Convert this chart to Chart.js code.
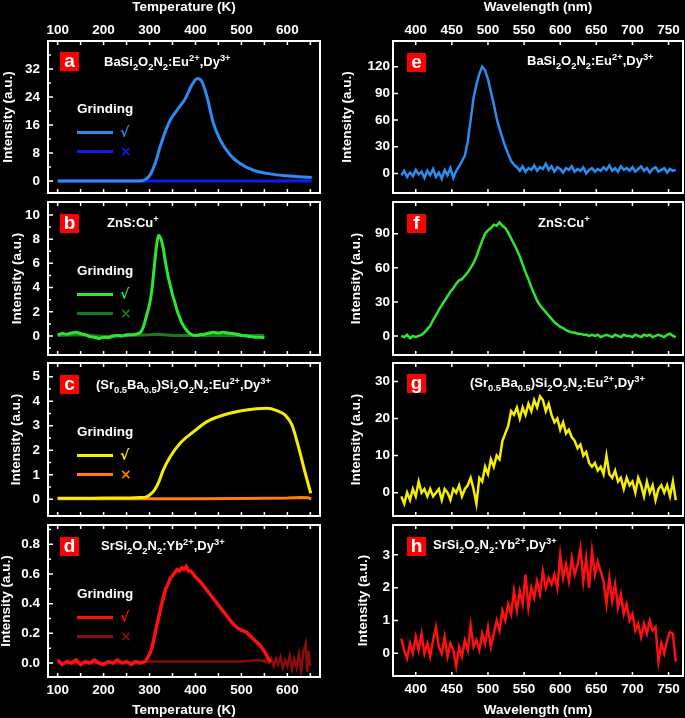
<!DOCTYPE html>
<html><head><meta charset="utf-8">
<script src="https://cdn.jsdelivr.net/npm/chart.js@4.4.0/dist/chart.umd.min.js"></script>
<style>
html,body{margin:0;padding:0;background:#000;width:685px;height:718px;overflow:hidden;font-family:"Liberation Sans",Arial,sans-serif;}
#root{position:relative;width:685px;height:718px;}
.lab{position:absolute;width:19px;height:19px;background:#f00;color:#fff;font:bold 19px "Liberation Sans",Arial,sans-serif;text-align:center;line-height:18px;}
.ann{position:absolute;color:#fff;font:bold 13px "Liberation Sans",Arial,sans-serif;line-height:16px;white-space:nowrap;}
.ann sub,.ann sup{font-size:72%;line-height:0;}
.grind{position:absolute;color:#fff;font:bold 13.5px "Liberation Sans",Arial,sans-serif;line-height:16px;white-space:nowrap;}
.lline{position:absolute;height:3px;width:36px;}
.sym{position:absolute;font:bold 14px "DejaVu Sans",sans-serif;line-height:16px;}
</style></head>
<body><div id="root"></div>
<script>
// ---------- DATA ----------
const tempTickLabels = [100,200,300,400,500,600];
const tempTickMarks = [100,150,200,250,300,350,400,450,500,550,600,650];
const wlTickLabels = [400,450,500,550,600,650,700,750];

const aYTicks = [0,8,16,24,32];
const aYMinor = [4,12,20,28,36];
const bYTicks = [0,2,4,6,8,10];
const bYMinor = [-1,1,3,5,7,9,11];
const cYTicks = [0,1,2,3,4,5];
const cYMinor = [0.5,1.5,2.5,3.5,4.5,5.5];
const dYTicks = [0,0.2,0.4,0.6,0.8];
const dYMinor = [0.1,0.3,0.5,0.7,0.9];
const eYTicks = [0,30,60,90,120];
const fYTicks = [0,30,60,90];
const gYTicks = [0,10,20,30];
const hYTicks = [0,1,2,3];

// (a) BaSi2O2N2:Eu2+,Dy3+ thermoluminescence
const aTempOn = [100,150,200,250,280,290,301,312,323,334,345,360,378,392,404,414,425,439,454,476,497,526,555,599,653];
const aIntOn  = [0,0,0,0,0.05,0.4,1.7,5,9.8,14,17.4,20.3,23.6,27.4,29.3,28.4,24.1,16.5,11.7,7.4,5,3.1,2.2,1.5,1.0];
const aTempOff = [100,300,500,653];
const aIntOff  = [0,0,0,0];

// (b) ZnS:Cu+
const bTempOn = [100,110,120,130,140,150,160,170,180,190,200,210,220,230,240,250,260,270,280,
  285,290,295,300,305,310,315,320,325,330,335,340,345,350,355,360,365,370,
  380,390,400,410,420,430,440,450,460,470,480,490,500,510,520,530,540,550];
const bIntOn = [0.1,0.2,0.15,0.25,0.3,0.2,0.1,-0.05,-0.1,-0.2,-0.1,-0.15,0.0,0.05,0.0,0.1,0.1,0.15,0.3,
  0.6,1.2,1.9,2.6,3.8,5.6,7.4,8.3,8.0,7.2,6.0,5.0,4.2,3.4,2.8,2.1,1.6,1.1,
  0.5,0.15,0.05,0.1,0.15,0.25,0.3,0.25,0.3,0.25,0.2,0.15,0.05,0.0,-0.05,-0.1,-0.1,-0.15];
const bTempOff = [100,150,200,250,300,320,350,400,450,500,550];
const bIntOff  = [0.05,0.1,-0.05,0.05,0.1,0.15,0.05,0.05,0.05,0.05,0.05];

// (c) (Sr0.5Ba0.5)Si2O2N2:Eu2+,Dy3+
const cTempOn = [100,150,200,250,280,290,300,310,320,330,345,367,396,425,461,497,533,555,577,595,610,624,639,651];
const cIntOn  = [0.04,0.04,0.05,0.05,0.07,0.08,0.18,0.35,0.7,1.2,1.74,2.3,2.76,3.17,3.44,3.6,3.69,3.71,3.62,3.44,3.03,2.15,1.06,0.24];
const cTempOff = [100,200,300,400,500,600,630,645,652];
const cIntOff  = [0.02,0.02,0.02,0.02,0.03,0.05,0.07,0.06,0.02];

// (d) SrSi2O2N2:Yb2+,Dy3+
const dTempOn = [100,110,120,130,140,150,160,170,180,190,200,210,220,230,240,250,260,270,280,290,
  295,300,305,310,315,320,325,330,335,340,345,350,355,360,365,370,375,380,385,390,395,400,
  410,420,430,440,450,460,470,480,490,500,510,520,530,540,550,555,560,565];
const dIntOn = [0.02,-0.01,0.01,0.0,0.02,-0.01,0.01,0.0,0.02,0.0,-0.01,0.01,0.0,0.02,0.0,0.01,-0.01,0.01,0.0,0.01,
  0.03,0.06,0.1,0.17,0.24,0.31,0.38,0.44,0.5,0.53,0.57,0.59,0.61,0.63,0.62,0.64,0.63,0.65,0.62,0.62,0.6,0.58,
  0.55,0.51,0.47,0.43,0.39,0.35,0.31,0.27,0.24,0.22,0.21,0.18,0.15,0.12,0.08,0.05,0.02,0.01];
const dTempOff = [100,200,300,350,400,450,500,540,560,565,570,575,580,585,590,595,600,605,610,615,620,625,630,635,640,643,646,650];
const dIntOff  = [0.0,0.0,0.01,0.01,0.01,0.01,0.01,0.02,0.0,0.03,-0.02,0.03,-0.01,0.04,-0.03,0.02,-0.02,0.05,-0.04,0.03,-0.03,0.06,-0.05,0.08,0.13,-0.06,0.08,-0.02];

// Emission spectra (e-h)
const wavelengths = [380,384,388,392,396,400,404,408,412,416,420,424,428,432,436,440,444,448,452,456,
  460,464,468,472,476,480,484,488,492,496,500,504,508,512,516,520,524,528,532,536,
  540,544,548,552,556,560,564,568,572,576,580,584,588,592,596,600,604,608,612,616,
  620,624,628,632,636,640,644,648,652,656,660,664,668,672,676,680,684,688,692,696,
  700,704,708,712,716,720,724,728,732,736,740,744,748,752,756,760];
const eSpec = [-2,3,-4,1,-3,4,-1,2,-5,3,-2,5,-4,1,-6,4,-2,6,-5,3,
  8,14,20,36,60,85,100,112,120,116,106,92,78,62,50,40,30,22,14,10,
  7,3,8,2,6,4,9,3,7,5,11,4,8,2,7,5,1,6,4,8,
  2,5,3,7,0,4,6,2,5,3,7,4,9,3,6,2,8,4,6,3,
  7,2,5,8,3,6,1,5,7,2,4,6,1,5,3,4];
const fSpec = [0,-1,1,-2,0,-1,0,1,3,6,9,14,18,23,27,31,35,39,42,46,
  49,50,53,56,60,64,70,77,84,90,93,95,98,97,100,97,95,91,86,81,
  76,70,63,56,50,43,37,31,27,24,21,18,15,12,10,8,7,5,4,3,
  3,2,2,1,1,0,1,0,1,-1,0,1,0,-1,1,0,-1,1,0,0,
  -1,1,0,-1,1,0,1,-1,0,1,0,-1,1,2,0,-1];
const gSpec = [-1,-3,0,-2,1,-1,3,0,1,-1,1,-1,0,1,-2,1,0,-2,1,0,
  2,-1,1,2,4,1,-3,4,3,7,5,9,7,10,9,14,16,18,22,21,
  23,20,23,21,24,22,25,23,26,25,22,24,21,19,20,17,19,16,17,15,
  14,12,13,10,11,8,7,8,6,7,5,10,5,4,6,3,4,1,4,2,
  3,0,4,2,-1,3,0,2,-2,1,2,0,2,-1,3,-2];
const hSpec = [0.45,0.1,-0.15,0.3,0.0,0.5,0.1,0.6,0.0,0.3,-0.1,0.4,0.8,0.2,0.0,0.5,-0.1,0.3,0.1,-0.4,
  0.2,-0.1,0.4,0.1,0.85,0.2,0.4,0.1,0.6,0.3,0.8,0.2,0.6,1.0,0.7,1.3,1.0,1.5,1.2,1.9,
  1.3,1.9,1.5,2.4,1.4,2.0,1.7,2.2,1.8,2.5,2.0,2.3,2.1,2.4,2.0,3.0,2.3,2.7,2.2,2.9,
  2.4,2.7,3.2,2.2,2.9,2.0,3.1,2.4,2.8,2.5,2.2,1.5,2.3,1.6,2.1,1.4,1.8,1.2,1.5,1.0,
  1.2,0.7,0.9,0.5,0.9,0.6,1.0,0.7,0.8,-0.25,0.3,0.0,0.4,0.65,0.6,-0.25];

// ---------- DRAWING ----------
Chart.defaults.font.family = '"Liberation Sans", Arial, sans-serif';
const FONT = {size:13.5, weight:'bold'};
const pts = (xs, ys) => xs.map((x,i)=>({x:x, y:ys[i]}));

const framePlugin = {
  id:'frame',
  afterDatasetsDraw(chart, args, o){
    const {ctx, chartArea:{left,right,top,bottom}, scales:{x,y}} = chart;
    ctx.save();
    ctx.strokeStyle = '#fff';
    ctx.lineWidth = 1.5;
    ctx.beginPath();
    o.xMarks.forEach(v=>{const p=x.getPixelForValue(v); ctx.moveTo(p,bottom); ctx.lineTo(p,bottom-4); ctx.moveTo(p,top); ctx.lineTo(p,top+4);});
    o.yMajor.forEach(v=>{const p=y.getPixelForValue(v); ctx.moveTo(left,p); ctx.lineTo(left+5,p);});
    o.yMinor.forEach(v=>{const p=y.getPixelForValue(v); if(p>top+2&&p<bottom-2){ctx.moveTo(left,p); ctx.lineTo(left+3,p);}});
    ctx.stroke();
    ctx.lineWidth = 2;
    ctx.strokeRect(left,top,right-left,bottom-top);
    ctx.restore();
  }
};

const L = {left:0, w:330, yW:48, padR:10, xMin:79, xMax:671, xMarks:tempTickMarks, xLabels:tempTickLabels, xTitle:'Temperature (K)', tickPad:8};
const R = {left:340, w:345, yW:53, padR:2, xMin:368.5, xMax:770, xMarks:wlTickLabels, xLabels:wlTickLabels, xTitle:'Wavelength (nm)', tickPad:3};

// each canvas extends 20px beyond its plot box where there is no axis
const panels = [
  {col:L, top:0,   h:213, padT:0,  padB:20, xPos:'top', xH:41, yMin:-3.4, yMax:40, yTicks:aYTicks, yMinor:aYMinor, tPad:0,
   sets:[{d:pts(aTempOn,aIntOn), c:'#2b8cf2', w:3, smooth:true},{d:pts(aTempOff,aIntOff), c:'#0c1cf0', w:3}]},
  {col:L, top:182, h:193, padT:20, padB:20, yMin:-1.57, yMax:11.07, yTicks:bYTicks, yMinor:bYMinor, tPad:8.8,
   sets:[{d:pts(bTempOn,bIntOn), c:'#2ee62e', w:3, smooth:true},{d:pts(bTempOff,bIntOff), c:'#1a7a1a', w:3}]},
  {col:L, top:343, h:193, padT:20, padB:20, yMin:-0.68, yMax:5.56, yTicks:cYTicks, yMinor:cYMinor, tPad:8.1,
   sets:[{d:pts(cTempOn,cIntOn), c:'#f5ee00', w:3, smooth:true},{d:pts(cTempOff,cIntOff), c:'#ff8000', w:3}]},
  {col:L, top:505, h:213, padT:20, padB:0, xPos:'bottom', xH:41, yMin:-0.094, yMax:0.93, yTicks:dYTicks, yMinor:dYMinor, tPad:-1.5, fmt:v=>v.toFixed(1),
   sets:[{d:pts(dTempOn,dIntOn), c:'#ff1010', w:3.5},{d:pts(dTempOff,dIntOff), c:'#8a0c0c', w:2.5}]},
  {col:R, top:0,   h:213, padT:0,  padB:20, xPos:'top', xH:41, yMin:-22, yMax:149, yTicks:eYTicks, yMinor:[], tPad:-0.4,
   sets:[{d:pts(wavelengths,eSpec), c:'#2b8cf2', w:2.5}]},
  {col:R, top:182, h:193, padT:20, padB:20, yMin:-16.8, yMax:118, yTicks:fYTicks, yMinor:[], tPad:8.1,
   sets:[{d:pts(wavelengths,fSpec), c:'#2ee62e', w:2.5}]},
  {col:R, top:343, h:193, padT:20, padB:20, yMin:-6.3, yMax:35, yTicks:gYTicks, yMinor:[], tPad:8.1,
   sets:[{d:pts(wavelengths,gSpec), c:'#f5ee00', w:2.5}]},
  {col:R, top:505, h:213, padT:20, padB:0, xPos:'bottom', xH:42, yMin:-0.69, yMax:3.91, yTicks:hYTicks, yMinor:[], tPad:15.6,
   sets:[{d:pts(wavelengths,hSpec), c:'#ff1010', w:2.5}]}
];

const root = document.getElementById('root');
panels.forEach(p=>{
  const c = p.col;
  const wrap = document.createElement('div');
  wrap.style.cssText = `position:absolute;left:${c.left}px;top:${p.top}px;width:${c.w}px;height:${p.h}px;`;
  const cv = document.createElement('canvas');
  cv.width = c.w; cv.height = p.h;
  cv.style.width = c.w+'px'; cv.style.height = p.h+'px';
  wrap.appendChild(cv); root.appendChild(wrap);
  const xScale = {
    type:'linear', min:c.xMin, max:c.xMax, position:p.xPos||'bottom', display:!!p.xPos,
    afterBuildTicks:s=>{s.ticks = c.xLabels.map(v=>({value:v}));},
    ticks:{color:'#fff', font:FONT, padding:p.xPos==='top'?3:5, autoSkip:false, maxRotation:0, minRotation:0},
    grid:{display:false, drawTicks:false}, border:{display:false},
    title:{display:true, text:c.xTitle, color:'#fff', font:FONT, padding:{top:p.xPos==='top'?-1:0, bottom:0}}
  };
  if (p.xPos) xScale.afterFit = s=>{s.height = p.xH;};
  new Chart(cv.getContext('2d'), {
    type:'line',
    data:{datasets:p.sets.map(s=>({data:s.d, borderColor:s.c, borderWidth:s.w, pointRadius:0, fill:false,
      cubicInterpolationMode: s.smooth?'monotone':'default', tension:0}))},
    options:{
      responsive:false, animation:false, devicePixelRatio:1,
      layout:{padding:{top:p.padT, bottom:p.padB, left:0, right:c.padR}},
      plugins:{legend:{display:false}, tooltip:{enabled:false},
        frame:{xMarks:c.xMarks, yMajor:p.yTicks, yMinor:p.yMinor}},
      scales:{
        x:xScale,
        y:{type:'linear', min:p.yMin, max:p.yMax,
          afterBuildTicks:s=>{s.ticks = p.yTicks.map(v=>({value:v}));},
          afterFit:s=>{s.width = c.yW;},
          ticks:{color:'#fff', font:FONT, padding:c.tickPad, callback: p.fmt || (v=>String(v))},
          grid:{display:false, drawTicks:false}, border:{display:false},
          title:{display:true, text:'Intensity (a.u.)', color:'#fff', font:FONT, padding:{top:p.tPad, bottom:0}}
        }
      }
    },
    plugins:[framePlugin]
  });
});

// ---------- ANNOTATIONS ----------
const labels = [
  {t:'a', x:60, y:52}, {t:'b', x:60, y:214}, {t:'c', x:60, y:375}, {t:'d', x:60, y:537},
  {t:'e', x:407, y:53}, {t:'f', x:407, y:214}, {t:'g', x:407, y:374}, {t:'h', x:407, y:537}
];
labels.forEach(l=>{
  const d = document.createElement('div'); d.className='lab'; d.textContent=l.t;
  d.style.left=l.x+'px'; d.style.top=l.y+'px'; root.appendChild(d);
});
const anns = [
  {h:'BaSi<sub>2</sub>O<sub>2</sub>N<sub>2</sub>:Eu<sup>2+</sup>,Dy<sup>3+</sup>', x:104, y:54},
  {h:'ZnS:Cu<sup>+</sup>', x:107, y:215},
  {h:'(Sr<sub>0.5</sub>Ba<sub>0.5</sub>)Si<sub>2</sub>O<sub>2</sub>N<sub>2</sub>:Eu<sup>2+</sup>,Dy<sup>3+</sup>', x:96, y:377},
  {h:'SrSi<sub>2</sub>O<sub>2</sub>N<sub>2</sub>:Yb<sup>2+</sup>,Dy<sup>3+</sup>', x:101, y:537.5},
  {h:'BaSi<sub>2</sub>O<sub>2</sub>N<sub>2</sub>:Eu<sup>2+</sup>,Dy<sup>3+</sup>', x:527, y:53},
  {h:'ZnS:Cu<sup>+</sup>', x:538, y:215},
  {h:'(Sr<sub>0.5</sub>Ba<sub>0.5</sub>)Si<sub>2</sub>O<sub>2</sub>N<sub>2</sub>:Eu<sup>2+</sup>,Dy<sup>3+</sup>', x:470, y:375},
  {h:'SrSi<sub>2</sub>O<sub>2</sub>N<sub>2</sub>:Yb<sup>2+</sup>,Dy<sup>3+</sup>', x:433, y:537}
];
anns.forEach(a=>{
  const d = document.createElement('div'); d.className='ann'; d.innerHTML=a.h;
  d.style.left=a.x+'px'; d.style.top=a.y+'px'; root.appendChild(d);
});
const legends = [
  {y:52,  on:'#2b8cf2', off:'#0c1cf0'},
  {y:214, on:'#2ee62e', off:'#1a7a1a'},
  {y:375, on:'#f5ee00', off:'#ff8000'},
  {y:537, on:'#ff1010', off:'#8a0c0c'}
];
legends.forEach(g=>{
  const t = document.createElement('div'); t.className='grind'; t.textContent='Grinding';
  t.style.left='77px'; t.style.top=(g.y+57-8)+'px'; root.appendChild(t);
  [[g.on,'\u221A',80],[g.off,'\u00D7',99]].forEach(([col,sym,dy])=>{
    const ln = document.createElement('div'); ln.className='lline';
    ln.style.left='77px'; ln.style.top=(g.y+dy-1.5)+'px'; ln.style.background=col; root.appendChild(ln);
    const s = document.createElement('div'); s.className='sym'; s.textContent=sym;
    s.style.left='120px'; s.style.top=(g.y+dy-8)+'px'; s.style.color=col; root.appendChild(s);
  });
});
</script>
</body></html>
